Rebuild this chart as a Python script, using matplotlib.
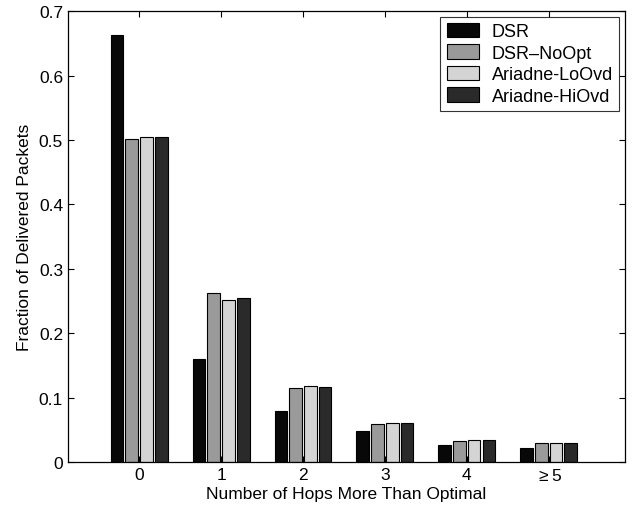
import numpy as np
import matplotlib
matplotlib.use("Agg")
import matplotlib.pyplot as plt

#### data

categories = ["0", "1", "2", "3", "4", r"$\geq$5"]
series_names = ["DSR", "DSR\u2013NoOpt", "Ariadne-LoOvd", "Ariadne-HiOvd"]
dsr = [0.663, 0.160, 0.080, 0.048, 0.027, 0.022]
dsr_noopt = [0.502, 0.262, 0.115, 0.059, 0.033, 0.029]
ariadne_lo = [0.504, 0.252, 0.118, 0.061, 0.034, 0.030]
ariadne_hi = [0.504, 0.254, 0.117, 0.060, 0.034, 0.030]
y_ticks = [0, 0.1, 0.2, 0.3, 0.4, 0.5, 0.6, 0.7]
y_tick_labels = ["0", "0.1", "0.2", "0.3", "0.4", "0.5", "0.6", "0.7"]

#### style

plt.rcParams['font.family'] = ['Liberation Sans', 'DejaVu Sans']
plt.rcParams['mathtext.fontset'] = 'custom'
plt.rcParams['mathtext.rm'] = 'Liberation Sans'

colors = ["#080808", "#9a9a9a", "#d4d4d4", "#2a2a2a"]

#### plot

fig = plt.figure(figsize=(6.35, 5.1), dpi=100)
ax = fig.add_axes([0.107, 0.092, 0.877, 0.884])

x = np.arange(len(categories))
pitch = 0.18
width = 0.155
all_series = [dsr, dsr_noopt, ariadne_lo, ariadne_hi]
for i, (name, vals) in enumerate(zip(series_names, all_series)):
    offset = (i - 1.5) * pitch
    ax.bar(x + offset, vals, width=width, color=colors[i], edgecolor="black",
           linewidth=0.8, label=name)

ax.set_xlim(-0.87, 5.93)
ax.set_ylim(0, 0.7)
ax.set_xticks(x)
ax.set_xticklabels(categories, fontsize=12.5)
ax.set_yticks(y_ticks)
ax.set_yticklabels(y_tick_labels, fontsize=12.5)
ax.tick_params(direction="in", top=True, right=True, length=4, width=0.8)
for s in ax.spines.values():
    s.set_linewidth(0.9)

ax.set_xlabel("Number of Hops More Than Optimal", fontsize=12.5, labelpad=2)
ax.set_ylabel("Fraction of Delivered Packets", fontsize=12.5, labelpad=5)

leg = ax.legend(loc="upper right", fontsize=13, frameon=True, fancybox=False,
                edgecolor="black", handlelength=1.8, handleheight=0.85,
                borderpad=0.35, labelspacing=0.22, handletextpad=0.7,
                borderaxespad=0.3)
leg.get_frame().set_linewidth(0.8)

fig.savefig("out.png", dpi=100)
